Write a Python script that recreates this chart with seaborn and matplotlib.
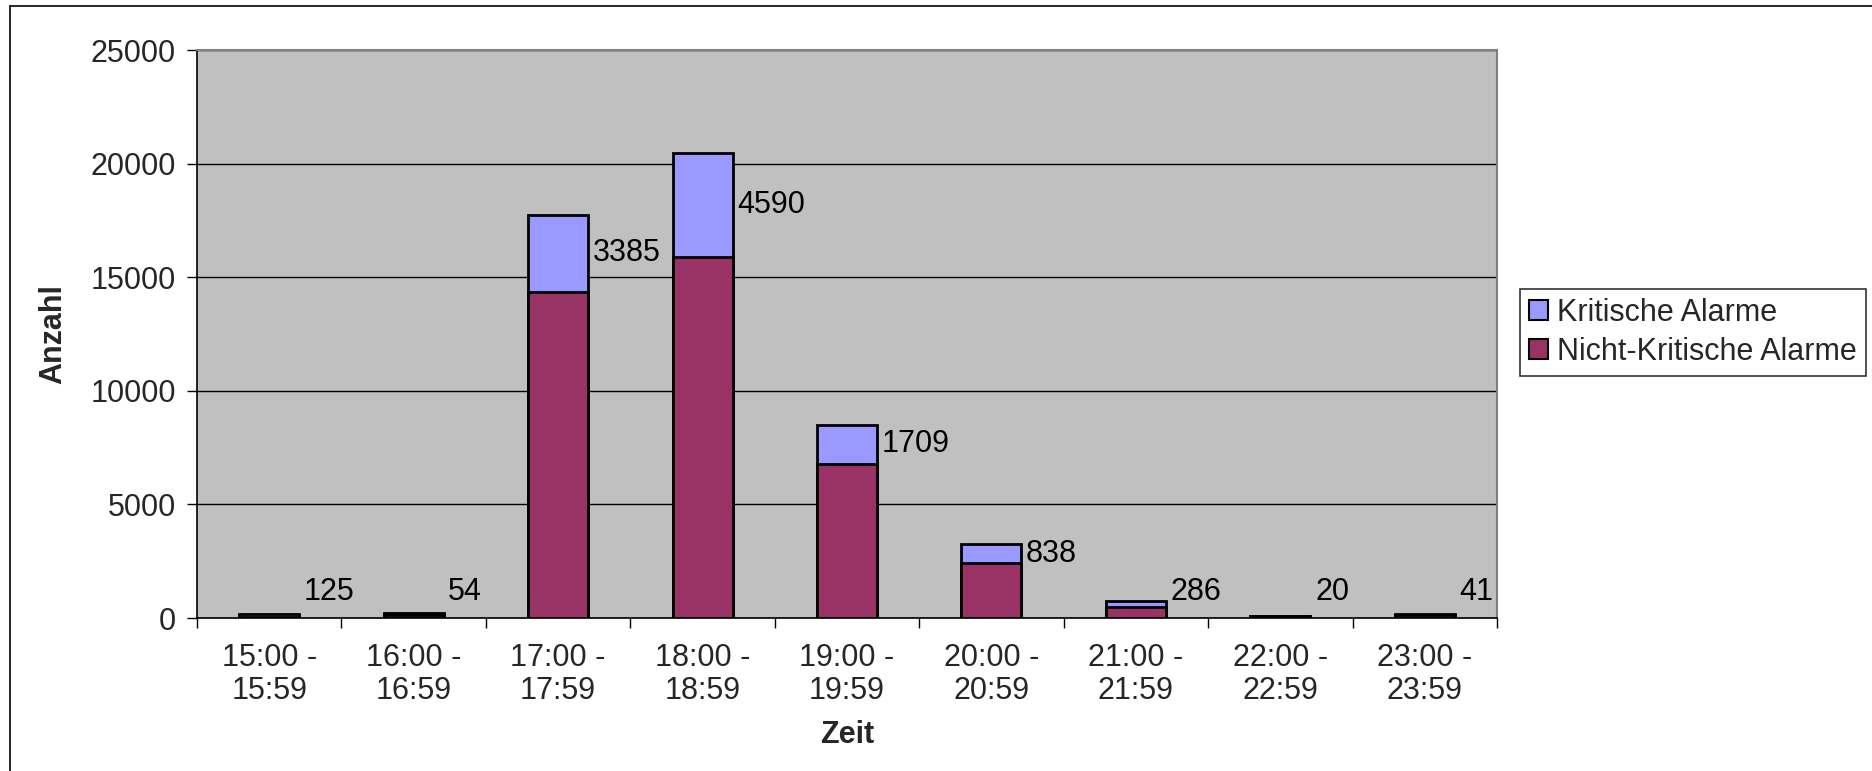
import matplotlib
matplotlib.use("Agg")
import matplotlib.pyplot as plt
import seaborn as sns
import pandas as pd
import numpy as np
from matplotlib.patches import Patch
from matplotlib.lines import Line2D

# ---- data ----
zeit = ["15:00 -\n15:59", "16:00 -\n16:59", "17:00 -\n17:59", "18:00 -\n18:59",
        "19:00 -\n19:59", "20:00 -\n20:59", "21:00 -\n21:59", "22:00 -\n22:59",
        "23:00 -\n23:59"]
kritisch = [125, 54, 3385, 4590, 1709, 838, 286, 20, 41]
nicht_kritisch = [60, 150, 14360, 15870, 6800, 2420, 470, 80, 150]
y_ticks = [0, 5000, 10000, 15000, 20000, 25000]

C_KRIT = "#9999FF"
C_NICHT = "#993366"

sns.set_theme(style="white")
plt.rcParams["font.family"] = ["Liberation Sans", "DejaVu Sans"]
FS = 22

df = pd.DataFrame({"Zeit": zeit,
                   "Kritisch": kritisch,
                   "Nicht": nicht_kritisch})
df["Gesamt"] = df["Kritisch"] + df["Nicht"]

fig = plt.figure(figsize=(18.72, 7.71), dpi=100)
ax = fig.add_axes([0.1052, 0.1984, 0.6945, 0.7367])
ax.set_facecolor("#C0C0C0")

bw = 0.415
sns.barplot(data=df, x="Zeit", y="Gesamt", color=C_KRIT, width=bw,
            edgecolor="black", linewidth=2, saturation=1, ax=ax, zorder=3)
sns.barplot(data=df, x="Zeit", y="Nicht", color=C_NICHT, width=bw,
            edgecolor="black", linewidth=2, saturation=1, ax=ax, zorder=4)

ax.set_ylim(0, 25000)
ax.set_xlim(-0.5, len(zeit) - 0.5)
ax.set_yticks(y_ticks)
ax.set_yticklabels([str(v) for v in y_ticks], fontsize=FS)
ax.yaxis.grid(True, color="black", linewidth=1, zorder=1)
ax.set_axisbelow(True)

# x ticks at category boundaries (Excel style)
ax.set_xticks(np.arange(len(zeit)))
ax.set_xticklabels(zeit, fontsize=FS, linespacing=1.15)
ax.tick_params(axis="x", length=0, pad=18)
ax.set_xticks(np.arange(len(zeit) + 1) - 0.5, minor=True)
ax.tick_params(axis="x", which="minor", length=7, width=1, color="black",
               direction="out", bottom=True)
ax.tick_params(axis="y", length=7, width=1, color="black", direction="out",
               left=True, pad=8)

for side in ["top", "right"]:
    ax.spines[side].set_color("#808080")
    ax.spines[side].set_linewidth(1.5)
for side in ["left", "bottom"]:
    ax.spines[side].set_color("black")
    ax.spines[side].set_linewidth(1.2)

ax.set_xlabel("Zeit", fontsize=FS, fontweight="bold")
ax.set_ylabel("Anzahl", fontsize=FS, fontweight="bold")
ax.xaxis.set_label_coords(0.5, -0.18)
ax.yaxis.set_label_coords(-0.099, 0.5)

# data labels (critical values), right of each bar
for i, (k, n) in enumerate(zip(kritisch, nicht_kritisch)):
    ymid = max(n + k / 2.0, 1150)
    ax.text(i + 0.24, ymid, str(k), ha="left", va="center", fontsize=FS,
            color="black", zorder=6)

handles = [Patch(facecolor=C_KRIT, edgecolor="black", linewidth=1.5,
                 label="Kritische Alarme"),
           Patch(facecolor=C_NICHT, edgecolor="black", linewidth=1.5,
                 label="Nicht-Kritische Alarme")]
leg = ax.legend(handles=handles, loc="center left",
                bbox_to_anchor=(0.812, 0.569), bbox_transform=fig.transFigure,
                fontsize=FS, frameon=True, fancybox=False, handlelength=0.6,
                handleheight=0.6, handletextpad=0.3, borderpad=0.3,
                labelspacing=0.3, borderaxespad=0)
leg.get_frame().set_edgecolor("black")
leg.get_frame().set_linewidth(1.2)

# outer chart-area border (top and left visible)
fig.add_artist(Line2D([10 / 1872, 10 / 1872], [0, 1 - 6 / 771],
                      transform=fig.transFigure, color="black", linewidth=1.2))
fig.add_artist(Line2D([10 / 1872, 1], [1 - 6 / 771, 1 - 6 / 771],
                      transform=fig.transFigure, color="black", linewidth=1.2))

fig.savefig("out.png", dpi=100, facecolor="white")
